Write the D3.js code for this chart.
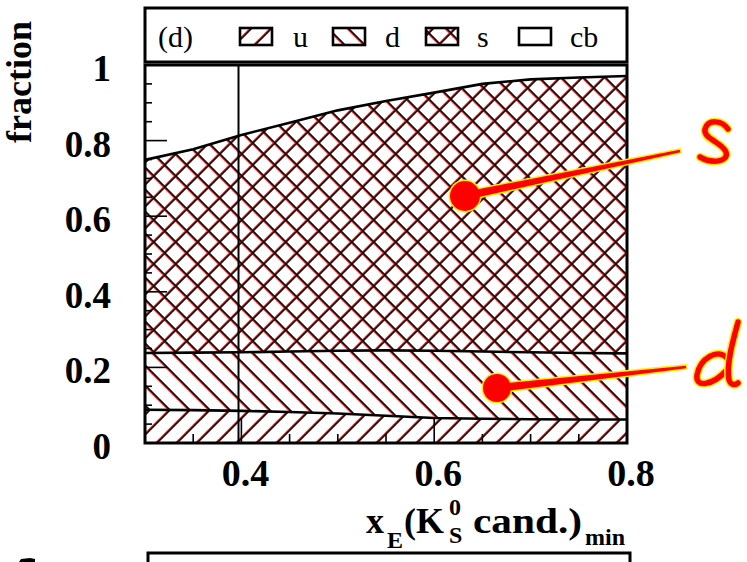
<!DOCTYPE html>
<html>
<head>
<meta charset="utf-8">
<script src="https://cdn.jsdelivr.net/npm/d3@7"></script>
<style>
  html, body { margin: 0; padding: 0; background: #fff; }
  svg { display: block; }
  text { font-family: "Liberation Serif", "Times New Roman", serif; fill: #000; }
</style>
</head>
<body>
<div id="chart"></div>
<script>
// Minimum x_E of the K0S candidates (bin positions)
const xValues = [0.30, 0.35, 0.40, 0.45, 0.50, 0.55, 0.60, 0.65, 0.70, 0.75, 0.80];
// Flavour fractions per bin (u, d, s, c+b), stacked to 1
const fracU  = [0.088, 0.087, 0.085, 0.082, 0.078, 0.072, 0.066, 0.064, 0.063, 0.062, 0.062];
const fracD  = [0.150, 0.152, 0.155, 0.160, 0.166, 0.173, 0.178, 0.178, 0.177, 0.176, 0.175];
const fracS  = [0.511, 0.538, 0.575, 0.605, 0.636, 0.660, 0.683, 0.708, 0.722, 0.729, 0.734];
const fracCB = [0.251, 0.223, 0.185, 0.153, 0.120, 0.095, 0.073, 0.050, 0.038, 0.033, 0.029];
const flavours = ["u", "d", "s", "cb"];
const xTicks = [0.4, 0.6, 0.8];
const yTicks = [0, 0.2, 0.4, 0.6, 0.8, 1];
const xCut = 0.397;
const panelTag = "(d)";

const W = 747, H = 562;
const svg = d3.select("#chart").append("svg").attr("width", W).attr("height", H);

const x = d3.scaleLinear().domain([0.3, 0.8]).range([145, 627]);
const y = d3.scaleLinear().domain([0, 1]).range([443, 65]);

// hatching patterns: thin black lines with a red fringe
const defs = svg.append("defs");
const hatchDefs = {
  u: { size: 20, dirs: ["/"] },
  d: { size: 20, dirs: ["\\"] },
  s: { size: 22, dirs: ["/", "\\"] }
};
function hatchPath(n, dirs) {
  const parts = [];
  if (dirs.includes("/")) parts.push(`M${-n / 4},${n / 4} L${n / 4},${-n / 4} M0,${n} L${n},0 M${n * 3 / 4},${n * 5 / 4} L${n * 5 / 4},${n * 3 / 4}`);
  if (dirs.includes("\\")) parts.push(`M${-n / 4},${n * 3 / 4} L${n / 4},${n * 5 / 4} M0,0 L${n},${n} M${n * 3 / 4},${-n / 4} L${n * 5 / 4},${n / 4}`);
  return parts.join(" ");
}
Object.entries(hatchDefs).forEach(([k, h]) => {
  const p = hatchPath(h.size, h.dirs);
  const pat = defs.append("pattern").attr("id", "hatch-" + k)
    .attr("patternUnits", "userSpaceOnUse").attr("width", h.size).attr("height", h.size);
  pat.append("rect").attr("width", h.size).attr("height", h.size).attr("fill", "#fff");
  pat.append("path").attr("d", p).attr("stroke", "#ff3030").attr("stroke-width", 2.4)
    .attr("transform", "translate(-0.9,0)");
  pat.append("path").attr("d", p).attr("stroke", "#000").attr("stroke-width", 1.5);
});
const fillFor = k => k === "cb" ? "#fff" : `url(#hatch-${k})`;

// stacked fractions
const rows = xValues.map((xv, i) => ({ x: xv, u: fracU[i], d: fracD[i], s: fracS[i], cb: fracCB[i] }));
const series = d3.stack().keys(flavours)(rows);

const area = d3.area().x(d => x(d.data.x)).y0(d => y(d[0])).y1(d => y(d[1]));
const topLine = d3.line().x(d => x(d.data.x)).y(d => y(d[1]));

const plot = svg.append("g");
plot.selectAll("path.band").data(series).join("path")
  .attr("class", "band").attr("d", area).attr("fill", s => fillFor(s.key));

// band boundaries
plot.selectAll("path.edge").data(series.slice(0, 3)).join("path")
  .attr("class", "edge").attr("d", topLine)
  .attr("fill", "none").attr("stroke", "#000").attr("stroke-width", 2.6);

// cut line
plot.append("line").attr("x1", x(xCut)).attr("x2", x(xCut)).attr("y1", y(1)).attr("y2", y(0))
  .attr("stroke", "#000").attr("stroke-width", 2);

// inward ticks on the left and bottom axes
const yMinor = d3.range(0, 21).map(i => i * 0.05);
plot.selectAll("line.ytick").data(yMinor).join("line")
  .attr("x1", x(0.3)).attr("x2", (d, i) => x(0.3) + (i % 4 === 0 ? 22 : 7))
  .attr("y1", d => y(d)).attr("y2", d => y(d))
  .attr("stroke", "#000").attr("stroke-width", 1.6);
const xMinor = d3.range(0, 11).map(i => 0.3 + i * 0.05);
plot.selectAll("line.xtick").data(xMinor).join("line")
  .attr("x1", d => x(d)).attr("x2", d => x(d))
  .attr("y1", y(0)).attr("y2", d => y(0) - (Math.round(d * 100) % 20 === 0 ? 25 : 9))
  .attr("stroke", "#000").attr("stroke-width", 1.6);

// frame
svg.append("rect").attr("x", x(0.3)).attr("y", y(1)).attr("width", x(0.8) - x(0.3)).attr("height", y(0) - y(1))
  .attr("fill", "none").attr("stroke", "#000").attr("stroke-width", 3);

// tick labels
svg.selectAll("text.ylab").data(yTicks).join("text")
  .attr("class", "ylab").attr("x", 111).attr("y", d => y(d) + 16)
  .attr("text-anchor", "end").attr("font-weight", "bold").attr("font-size", 37)
  .text(d => d === 0 || d === 1 ? String(d) : d.toFixed(1));
svg.selectAll("text.xlab").data(xTicks).join("text")
  .attr("class", "xlab").attr("x", d => x(d) + 4).attr("y", 486)
  .attr("text-anchor", "middle").attr("font-weight", "bold").attr("font-size", 38)
  .text(d => d.toFixed(1));

// y title
svg.append("text").attr("transform", "translate(31,82) rotate(-90)")
  .attr("text-anchor", "middle").attr("font-weight", "bold").attr("font-size", 36)
  .text("fraction");

// x title: x_E(K^0_S cand.)_min
const xt = svg.append("g").attr("font-weight", "bold");
xt.append("text").attr("x", 366).attr("y", 533).attr("font-size", 36).text("x");
xt.append("text").attr("x", 387).attr("y", 548).attr("font-size", 24).text("E");
xt.append("text").attr("x", 404).attr("y", 533).attr("font-size", 36).text("(K");
xt.append("text").attr("x", 449).attr("y", 515).attr("font-size", 24).text("0");
xt.append("text").attr("x", 449).attr("y", 543).attr("font-size", 24).text("S");
xt.append("text").attr("x", 473).attr("y", 533).attr("font-size", 36)
  .attr("textLength", 109).attr("lengthAdjust", "spacingAndGlyphs").text("cand.)");
xt.append("text").attr("x", 585).attr("y", 545).attr("font-size", 24).text("min");

// legend box
const lg = svg.append("g");
lg.append("rect").attr("x", x(0.3)).attr("y", 8).attr("width", x(0.8) - x(0.3)).attr("height", 54)
  .attr("fill", "#fff").attr("stroke", "#000").attr("stroke-width", 3);
lg.append("text").attr("x", 158).attr("y", 47).attr("font-size", 30).text(panelTag);
const swatchX = [240, 333, 426, 519];
const labelX = [293, 385, 477, 570];
flavours.forEach((k, i) => {
  lg.append("rect").attr("x", swatchX[i]).attr("y", 28).attr("width", 32).attr("height", 17)
    .attr("fill", fillFor(k)).attr("stroke", "#000").attr("stroke-width", 2.6);
  lg.append("text").attr("x", labelX[i]).attr("y", 47).attr("font-size", 30).text(k);
});

// top edge of the panel below
svg.append("path").attr("d", "M148,562 L148,553 L630,553 L630,562")
  .attr("fill", "none").attr("stroke", "#000").attr("stroke-width", 3);
svg.append("path").attr("d", "M19,562 L21,559 L30,558 L35,559 L35,562 Z").attr("fill", "#000");

// hand-drawn markers
const ann = svg.append("g");
function taper(x0, y0, w0, x1, y1, w1) {
  const dx = x1 - x0, dy = y1 - y0, L = Math.hypot(dx, dy);
  const nx = -dy / L, ny = dx / L;
  return `M${x0 + nx * w0 / 2},${y0 + ny * w0 / 2} L${x1 + nx * w1 / 2},${y1 + ny * w1 / 2} ` +
         `L${x1 - nx * w1 / 2},${y1 - ny * w1 / 2} L${x0 - nx * w0 / 2},${y0 - ny * w0 / 2} Z`;
}
function marker(cx, cy, r, x1, y1) {
  const p = taper(cx, cy, 8, x1, y1, 2.5);
  ann.append("path").attr("d", p).attr("fill", "#ffee00").attr("stroke", "#ffee00").attr("stroke-width", 3);
  ann.append("circle").attr("cx", cx).attr("cy", cy).attr("r", r + 1.5).attr("fill", "#ffee00");
  ann.append("path").attr("d", p).attr("fill", "#ff0000");
  ann.append("circle").attr("cx", cx).attr("cy", cy).attr("r", r).attr("fill", "#ff0000");
}
marker(465, 196, 15, 680, 151);
marker(497, 388, 14, 686, 367);
function glyph(d) {
  ann.append("path").attr("d", d).attr("fill", "none").attr("stroke", "#ffee00")
    .attr("stroke-width", 8.5).attr("stroke-linecap", "round").attr("stroke-linejoin", "round");
  ann.append("path").attr("d", d).attr("fill", "none").attr("stroke", "#ff0000")
    .attr("stroke-width", 5.5).attr("stroke-linecap", "round").attr("stroke-linejoin", "round");
}
glyph("M728,129 C722,120 708,119 705,129 C703,139 722,142 726,152 C729,162 712,164 700,157");
glyph("M727,358 C718,348 700,358 697,375 C695,388 712,386 727,370");
glyph("M738,322 C733,340 726,365 729,380 C731,386 736,385 738,383");
</script>
</body>
</html>
